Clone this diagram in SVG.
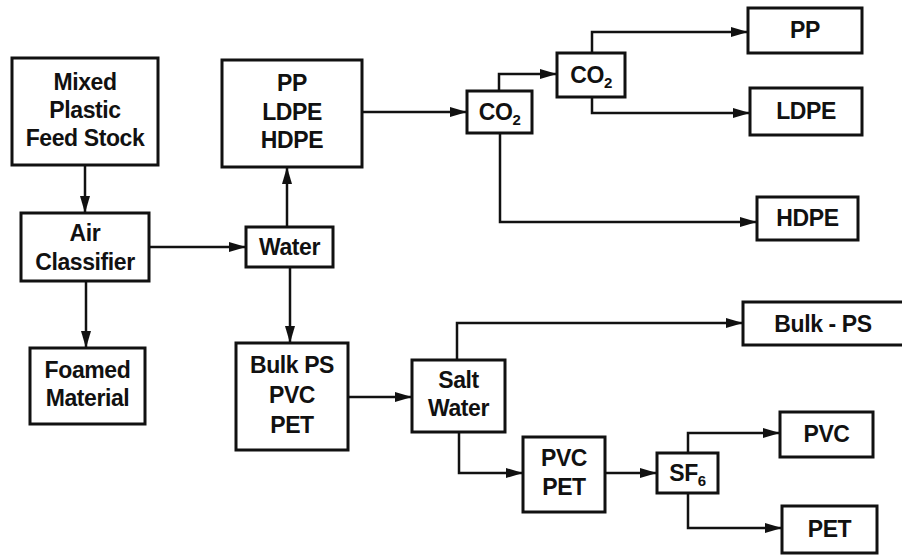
<svg xmlns="http://www.w3.org/2000/svg" width="902" height="555" viewBox="0 0 902 555">
<style>
.box{fill:#fff;stroke:#111;stroke-width:3}
.t{font-family:"Liberation Sans",Arial,sans-serif;font-weight:bold;font-size:23px;fill:#111;text-anchor:middle;letter-spacing:-0.4px}
.sub{font-size:15px}
.c{fill:none;stroke:#111;stroke-width:2.5}
</style>
<defs>
<marker id="ah" markerUnits="userSpaceOnUse" markerWidth="17" markerHeight="10" refX="16" refY="5" orient="auto">
<path d="M0,0 L17,5 L0,10 z" fill="#111"/>
</marker>
</defs>
<rect width="902" height="555" fill="#fff"/>
<g id="connectors">
<path class="c" d="M85,165 V212" marker-end="url(#ah)"/>
<path class="c" d="M86,281 V347" marker-end="url(#ah)"/>
<path class="c" d="M149,247 H245" marker-end="url(#ah)"/>
<path class="c" d="M287,227 V168" marker-end="url(#ah)"/>
<path class="c" d="M290,267 V342" marker-end="url(#ah)"/>
<path class="c" d="M362,112 H466" marker-end="url(#ah)"/>
<path class="c" d="M499,91 V74 H556" marker-end="url(#ah)"/>
<path class="c" d="M592,53 V32 H747" marker-end="url(#ah)"/>
<path class="c" d="M592,97 V113 H749" marker-end="url(#ah)"/>
<path class="c" d="M500,133 V222 H756" marker-end="url(#ah)"/>
<path class="c" d="M348,397 H411" marker-end="url(#ah)"/>
<path class="c" d="M457,360 V323 H742" marker-end="url(#ah)"/>
<path class="c" d="M459,432 V473 H522" marker-end="url(#ah)"/>
<path class="c" d="M605,473 H656" marker-end="url(#ah)"/>
<path class="c" d="M688,453 V433 H779" marker-end="url(#ah)"/>
<path class="c" d="M688,493 V528 H781" marker-end="url(#ah)"/>
</g>
<g id="feed"><rect class="box" x="12" y="58" width="146" height="107"/>
<text class="t" x="85" y="90">Mixed</text><text class="t" x="85" y="118">Plastic</text><text class="t" x="85" y="146">Feed Stock</text></g>
<g id="air"><rect class="box" x="21" y="213" width="128" height="68"/>
<text class="t" x="85" y="241">Air</text><text class="t" x="85" y="270">Classifier</text></g>
<g id="foamed"><rect class="box" x="30" y="348" width="115" height="76"/>
<text class="t" x="87.5" y="378">Foamed</text><text class="t" x="87.5" y="406">Material</text></g>
<g id="water"><rect class="box" x="246" y="227" width="87" height="40"/>
<text class="t" x="289.5" y="255">Water</text></g>
<g id="ppmix"><rect class="box" x="222" y="60" width="140" height="107"/>
<text class="t" x="292" y="91">PP</text><text class="t" x="292" y="120">LDPE</text><text class="t" x="292" y="148">HDPE</text></g>
<g id="bulkmix"><rect class="box" x="236" y="343" width="112" height="107"/>
<text class="t" x="292" y="373">Bulk PS</text><text class="t" x="292" y="403">PVC</text><text class="t" x="292" y="433">PET</text></g>
<g id="co2a"><rect class="box" x="467" y="91" width="65" height="42"/>
<text class="t" x="499.5" y="120">CO<tspan class="sub" dy="5">2</tspan></text></g>
<g id="co2b"><rect class="box" x="557" y="53" width="68" height="44"/>
<text class="t" x="591" y="83">CO<tspan class="sub" dy="5">2</tspan></text></g>
<g id="pp"><rect class="box" x="748" y="8" width="114" height="45"/>
<text class="t" x="805" y="38">PP</text></g>
<g id="ldpe"><rect class="box" x="750" y="88" width="112" height="47"/>
<text class="t" x="806" y="119">LDPE</text></g>
<g id="hdpe"><rect class="box" x="757" y="197" width="101" height="43"/>
<text class="t" x="807.5" y="226">HDPE</text></g>
<g id="salt"><rect class="box" x="412" y="360" width="93" height="72"/>
<text class="t" x="458.5" y="388">Salt</text><text class="t" x="458.5" y="416">Water</text></g>
<g id="bulkps"><rect class="box" x="743" y="302" width="170" height="43"/>
<text class="t" x="823" y="332">Bulk - PS</text></g>
<g id="pvcpet"><rect class="box" x="523" y="437" width="82" height="75"/>
<text class="t" x="564" y="466">PVC</text><text class="t" x="564" y="495">PET</text></g>
<g id="sf6"><rect class="box" x="657" y="453" width="61" height="40"/>
<text class="t" x="687.5" y="481">SF<tspan class="sub" dy="5">6</tspan></text></g>
<g id="pvc"><rect class="box" x="780" y="412" width="93" height="45"/>
<text class="t" x="826.5" y="442">PVC</text></g>
<g id="pet"><rect class="box" x="782" y="506" width="95" height="47"/>
<text class="t" x="829.5" y="537">PET</text></g>
</svg>
